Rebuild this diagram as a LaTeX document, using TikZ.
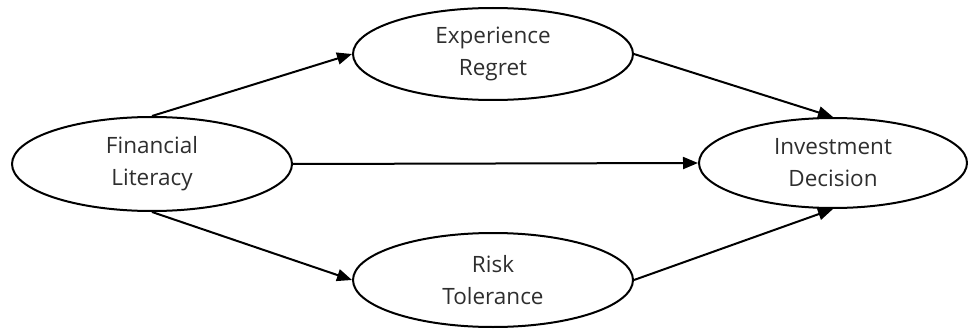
\documentclass[tikz,border=0pt]{standalone}
\usepackage{fontspec}
\setmainfont{Open Sans}
\usepackage{xcolor}
\usetikzlibrary{arrows.meta,shapes.geometric}

\begin{document}
\begin{tikzpicture}[x=1pt, y=-1pt, line join = round,
    construct/.style={ellipse, draw, line width=2pt, inner sep=0pt, align=center,
        text=black!82, font=\fontsize{22.5}{32}\selectfont},
    path/.style={line width=2pt, -{Triangle[length=15pt, width=12pt]}}]

                        \useasboundingbox (0,0) rectangle (970,329);

                        % constructs
                        \node [construct, minimum width=280pt, minimum height=94pt] (literacy) at (152,164) {Financial\\Literacy};
                        \node [construct, minimum width=280pt, minimum height=92pt] (regret) at (493,54) {Experience\\Regret};
                        \node [construct, minimum width=280pt, minimum height=94pt] (tolerance) at (493,280) {Risk\\Tolerance};
                        \node [construct, minimum width=268pt, minimum height=90pt] (decision) at (833,163) {Investment\\Decision};

                        % paths
                        \draw[path] (literacy.north)--(regret.west);
                        \draw[path] (literacy.east)--(decision.west);
                        \draw[path] (literacy.south)--(tolerance.west);
                        \draw[path] (regret.east)--(decision.north);
                        \draw[path] (tolerance.east)--(decision.south);

                    \end{tikzpicture}
\end{document}
